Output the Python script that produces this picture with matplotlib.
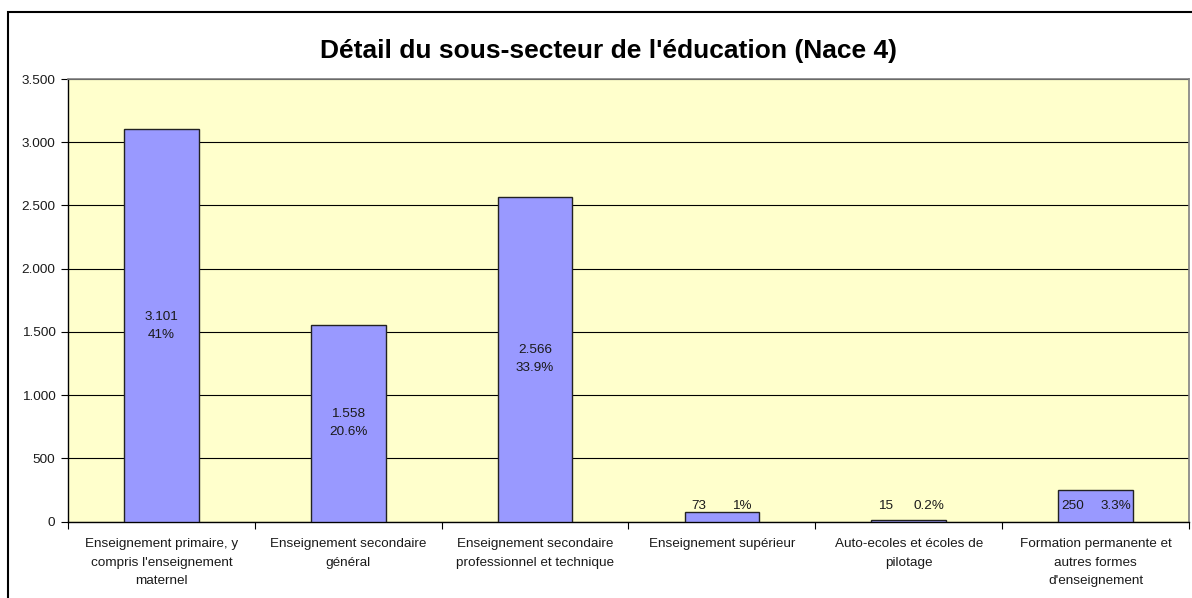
import matplotlib
matplotlib.use('Agg')
import matplotlib.pyplot as plt
from matplotlib.patches import Rectangle
import numpy as np

plt.rcParams['font.family'] = ['Liberation Sans', 'DejaVu Sans']

categories = [
    "Enseignement primaire, y\ncompris l'enseignement\nmaternel",
    "Enseignement secondaire\ngénéral",
    "Enseignement secondaire\nprofessionnel et technique",
    "Enseignement supérieur",
    "Auto-ecoles et écoles de\npilotage",
    "Formation permanente et\nautres formes\nd'enseignement",
]
values = [3101, 1558, 2566, 73, 15, 250]
y_ticks = [0, 500, 1000, 1500, 2000, 2500, 3000, 3500]
title = "Détail du sous-secteur de l'éducation (Nace 4)"

FS = 9.7
TXT = '#1a1a1a'


def fmt_thousands(v):
    return f"{int(v):,}".replace(',', '.')


def fmt_pct(p):
    s = f"{p:.1f}"
    if s.endswith('.0'):
        s = s[:-2]
    return s + '%'


total = sum(values)
pcts = [v / total * 100 for v in values]

fig = plt.figure(figsize=(11.92, 5.98), dpi=100)
W, H = 1192, 598

# outer chart frame (runs off the right and bottom edges)
fig.patches.append(Rectangle((8 / W, -0.1), 1.2, 1 - 12 / H + 0.1, transform=fig.transFigure,
                             fill=False, edgecolor='black', linewidth=1.5, zorder=0))

ax = fig.add_axes([68 / W, (H - 521.7) / H, (1189 - 68) / W, (521.7 - 79) / H])
ax.set_facecolor('#FFFFCC')

x = np.arange(len(categories))
ax.bar(x, values, width=0.4, color='#9999FF', edgecolor='#222222', linewidth=1, zorder=3)

ax.set_xlim(-0.5, len(categories) - 0.5)
ax.set_ylim(0, 3500)
ax.set_yticks(y_ticks)
ax.set_yticklabels([fmt_thousands(t) for t in y_ticks], fontsize=FS, color=TXT)
ax.yaxis.grid(True, color='black', linewidth=0.8, zorder=1)
ax.set_axisbelow(True)

# category boundaries as ticks, names centred under each bar
ax.set_xticks(np.arange(-0.5, len(categories), 1.0))
ax.set_xticklabels([])
ax.set_xticks(x, minor=True)
ax.set_xticklabels(categories, minor=True, fontsize=FS, linespacing=1.72, color=TXT)
ax.tick_params(axis='x', which='minor', length=0, pad=12)
ax.tick_params(axis='x', which='major', length=5, direction='out')
ax.tick_params(axis='y', length=5, direction='out', pad=4)

for side in ['top', 'right']:
    ax.spines[side].set_color('#808080')
    ax.spines[side].set_linewidth(1.2)
for side in ['left', 'bottom']:
    ax.spines[side].set_color('black')
    ax.spines[side].set_linewidth(1)

for xi, v, p in zip(x, values, pcts):
    if v >= 500:
        ax.text(xi, v / 2, f"{fmt_thousands(v)}\n{fmt_pct(p)}", ha='center', va='center',
                fontsize=FS, linespacing=1.66, color=TXT, zorder=4)
    else:
        ypos = max(v / 2, 125)
        ax.annotate(fmt_thousands(v), (xi, ypos), xytext=(-23, 0), textcoords='offset pixels',
                    ha='center', va='center', fontsize=FS, color=TXT, zorder=4)
        ax.annotate(fmt_pct(p), (xi, ypos), xytext=(20, 0), textcoords='offset pixels',
                    ha='center', va='center', fontsize=FS, color=TXT, zorder=4)

fig.text(608 / W, 1 - 51 / H, title, ha='center', va='center', fontsize=19, fontweight='bold')

fig.savefig('out.png', dpi=100)
